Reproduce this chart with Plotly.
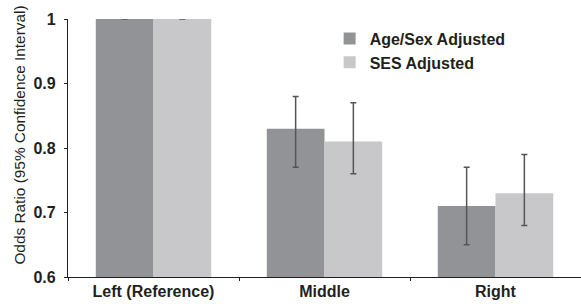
import plotly.graph_objects as go

categories = ["Left (Reference)", "Middle", "Right"]
age_sex = [1.0, 0.83, 0.71]
age_sex_hi = [1.0, 0.88, 0.77]
age_sex_lo = [1.0, 0.77, 0.65]
ses = [1.0, 0.81, 0.73]
ses_hi = [1.0, 0.87, 0.79]
ses_lo = [1.0, 0.76, 0.68]
y_ticks = [0.6, 0.7, 0.8, 0.9, 1.0]
y_tick_labels = ["0.6", "0.7", "0.8", "0.9", "1"]
y_title = "Odds Ratio (95% Confidence Interval)"

def err(vals, hi, lo):
    return dict(type="data", symmetric=False,
                array=[h - v for h, v in zip(hi, vals)],
                arrayminus=[v - l for v, l in zip(vals, lo)],
                color="#555555", thickness=1.5, width=3)

fig = go.Figure()
fig.add_trace(go.Bar(x=categories, y=age_sex, name="Age/Sex Adjusted",
                     marker=dict(color="#929396", line=dict(width=0)),
                     error_y=err(age_sex, age_sex_hi, age_sex_lo)))
fig.add_trace(go.Bar(x=categories, y=ses, name="SES Adjusted",
                     marker=dict(color="#c8c8ca", line=dict(width=0)),
                     error_y=err(ses, ses_hi, ses_lo)))

fig.update_layout(
    width=581, height=304,
    margin=dict(l=68, r=0, t=19, b=27, autoexpand=False),
    paper_bgcolor="white", plot_bgcolor="white",
    barmode="group", bargap=0.325, bargroupgap=0,
    font=dict(family="Liberation Sans, Arial, sans-serif", color="#231f20"),
    legend=dict(x=0.51, y=0.99, xanchor="left", yanchor="top",
                font=dict(size=16, color="#231f20", weight="bold"),
                bgcolor="rgba(0,0,0,0)", tracegroupgap=0, itemwidth=30),
    showlegend=True,
    annotations=[dict(text=y_title, textangle=-90, xref="paper", yref="paper",
                      x=-0.0945, y=0.55, xanchor="center", yanchor="middle",
                      showarrow=False, font=dict(size=15.4, color="#231f20"))],
)
fig.update_xaxes(
    showline=True, linecolor="#231f20", linewidth=1.2, automargin=False,
    ticks="outside", ticklen=3, tickcolor="#231f20", tickson="boundaries",
    tickfont=dict(size=16, weight="bold"), showgrid=False, zeroline=False,
)
fig.update_yaxes(
    range=[0.6, 1.0], tickvals=y_ticks, ticktext=y_tick_labels, automargin=False,
    showline=True, linecolor="#231f20", linewidth=1.2,
    ticks="outside", ticklen=3, tickcolor="#231f20", ticklabelstandoff=5,
    tickfont=dict(size=16, weight="bold"), showgrid=False, zeroline=False,
)

fig.write_html("out.html", config={"displayModeBar": False},
               post_script="document.body.style.margin='0';document.body.style.padding='0';")
